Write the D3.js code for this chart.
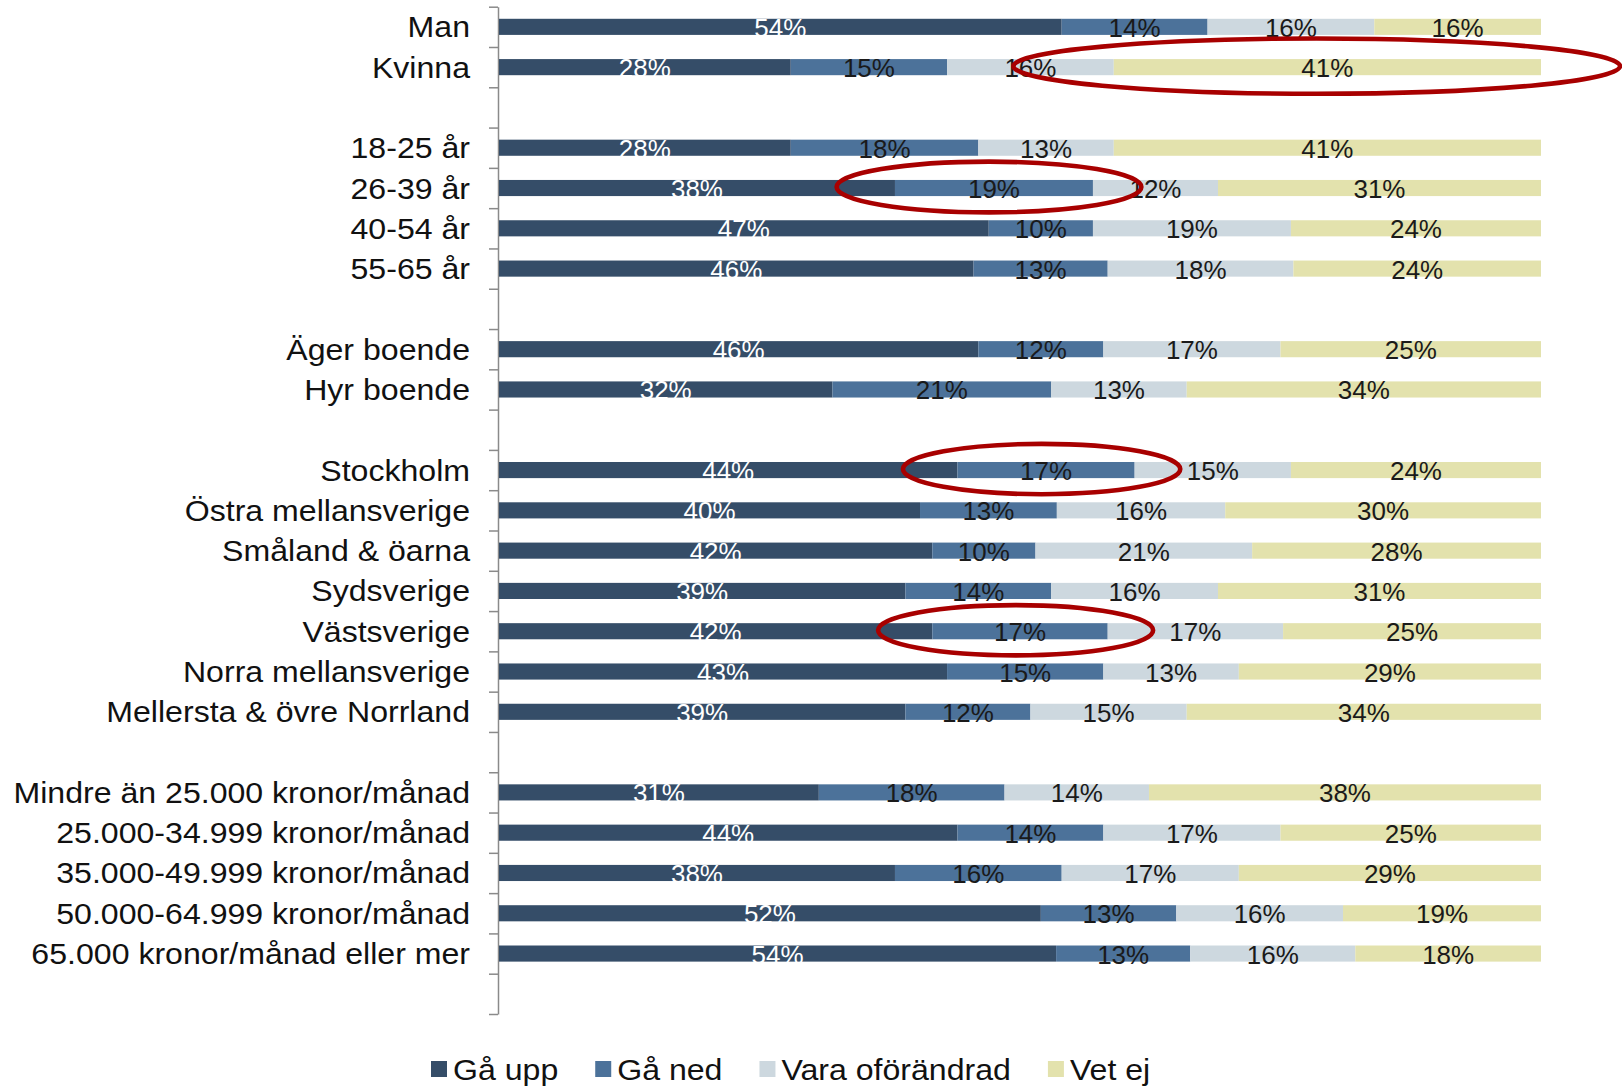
<!DOCTYPE html>
<html>
<head>
<meta charset="utf-8">
<script src="https://cdn.jsdelivr.net/npm/d3@7"></script>
<style>
  body { margin: 0; background: #fff; }
  text { font-family: "Liberation Sans", Arial, sans-serif; }
</style>
</head>
<body>
<div id="chart"></div>
<script>
// categories, blank entries are the gaps between groups
var categories = ["Man", "Kvinna", "",
	"18-25 år", "26-39 år", "40-54 år", "55-65 år", "",
	"Äger boende", "Hyr boende", "",
	"Stockholm", "Östra mellansverige", "Småland & öarna", "Sydsverige", "Västsverige", "Norra mellansverige", "Mellersta & övre Norrland", "",
	"Mindre än 25.000 kronor/månad", "25.000-34.999 kronor/månad", "35.000-49.999 kronor/månad", "50.000-64.999 kronor/månad", "65.000 kronor/månad eller mer", ""]

var seriesNames = ["Gå upp", "Gå ned", "Vara oförändrad", "Vet ej"]

var gaUpp  = [54, 28, null, 28, 38, 47, 46, null, 46, 32, null, 44, 40, 42, 39, 42, 43, 39, null, 31, 44, 38, 52, 54, null]
var gaNed  = [14, 15, null, 18, 19, 10, 13, null, 12, 21, null, 17, 13, 10, 14, 17, 15, 12, null, 18, 14, 16, 13, 13, null]
var varaOf = [16, 16, null, 13, 12, 19, 18, null, 17, 13, null, 15, 16, 21, 16, 17, 13, 15, null, 14, 17, 17, 16, 16, null]
var vetEj  = [16, 41, null, 41, 31, 24, 24, null, 25, 34, null, 24, 30, 28, 31, 25, 29, 34, null, 38, 25, 29, 19, 18, null]

// red circled segments: [category, series]
var highlights = [["Kvinna", "Vet ej"], ["26-39 år", "Gå ned"], ["Stockholm", "Gå ned"], ["Västsverige", "Gå ned"]]

const width = 1622
const height = 1086
const padding = { top: 6.7, left: 499, right: 81, bottom: 72 }
const colors = ["#354d68", "#4c729a", "#cdd8df", "#e3e2ad"]
const textColors = ["#ffffff", "#1a1a1a", "#1a1a1a", "#1a1a1a"]
const stretch = 1.07  // the original text is a little wider than Liberation Sans

var svg = d3.select("#chart").append("svg")
	.attr("width", width)
	.attr("height", height)

// rows for the stack, blanks left out
var rows = []
for (var i = 0; i < categories.length; i++) {
	if (gaUpp[i] == null) continue
	rows.push({ idx: i, cat: categories[i], "Gå upp": gaUpp[i], "Gå ned": gaNed[i], "Vara oförändrad": varaOf[i], "Vet ej": vetEj[i] })
}

var stacked = d3.stack().keys(seriesNames).offset(d3.stackOffsetExpand)(rows)

const xScale = d3.scaleLinear().domain([0, 1]).range([padding.left, width - padding.right])
const yScale = d3.scaleBand().domain(d3.range(categories.length))
	.range([padding.top, height - padding.bottom])
	.paddingInner(0.6).paddingOuter(0.3)
const step = yScale.step()

// axis with ticks between the categories
const edgeScale = d3.scaleLinear().domain([0, categories.length]).range([padding.top, height - padding.bottom])
var axis = svg.append("g")
	.attr("transform", "translate(" + (padding.left - 1) + ",0)")
	.call(d3.axisLeft(edgeScale).tickValues(d3.range(categories.length + 1)).tickSize(9).tickSizeOuter(0).tickFormat(""))
axis.selectAll("path, line").attr("stroke", "#8a8a8a").attr("stroke-width", 1.5)

// category labels
svg.append("g").selectAll("text")
	.data(categories)
	.enter().append("text")
	.attr("transform", (d, i) => "translate(470," + (yScale(i) + yScale.bandwidth() / 2 + 10.5) + ") scale(" + stretch + ",1)")
	.attr("text-anchor", "end")
	.style("font-size", "30px")
	.style("fill", "#111")
	.text(d => d)

// bars
var layers = svg.append("g").selectAll("g")
	.data(stacked)
	.enter().append("g")
	.attr("fill", (d, i) => colors[i])

layers.selectAll("rect")
	.data(d => d)
	.enter().append("rect")
	.attr("x", d => xScale(d[0]))
	.attr("width", d => xScale(d[1]) - xScale(d[0]))
	.attr("y", d => yScale(d.data.idx))
	.attr("height", yScale.bandwidth())

// value labels
stacked.forEach(function(layer, si) {
	svg.append("g").selectAll("text")
		.data(layer)
		.enter().append("text")
		.attr("x", d => (xScale(d[0]) + xScale(d[1])) / 2)
		.attr("y", d => yScale(d.data.idx) + yScale.bandwidth() / 2 + 10)
		.attr("text-anchor", "middle")
		.style("font-size", "26px")
		.style("fill", textColors[si])
		.text(d => d.data[layer.key] + "%")
})

// red ellipses around highlighted segments
highlights.forEach(function(h) {
	var si = seriesNames.indexOf(h[1])
	var seg = stacked[si].find(d => d.data.cat == h[0])
	var x0 = xScale(seg[0]), x1 = xScale(seg[1])
	var half = (x1 - x0) / 2
	svg.append("ellipse")
		.attr("cx", x0 + half * 0.95)
		.attr("cy", yScale(seg.data.idx) + yScale.bandwidth() / 2 - 1)
		.attr("rx", half * 1.317 + 22)
		.attr("ry", step * 0.58 + half * 0.02)
		.attr("fill", "none")
		.attr("stroke", "#a80000")
		.attr("stroke-width", 4.6)
})

// legend
var legend = svg.append("g").attr("transform", "translate(0,1069)")
var lx = 431
seriesNames.forEach(function(name, i) {
	legend.append("rect")
		.attr("x", lx).attr("y", -8)
		.attr("width", 16).attr("height", 16)
		.attr("fill", colors[i])
	var t = legend.append("text")
		.attr("transform", "translate(" + (lx + 22) + ",10.5) scale(" + stretch + ",1)")
		.style("font-size", "30px")
		.style("fill", "#111")
		.text(name)
	lx += 22 + t.node().getComputedTextLength() * stretch + 37
})
</script>
</body>
</html>
